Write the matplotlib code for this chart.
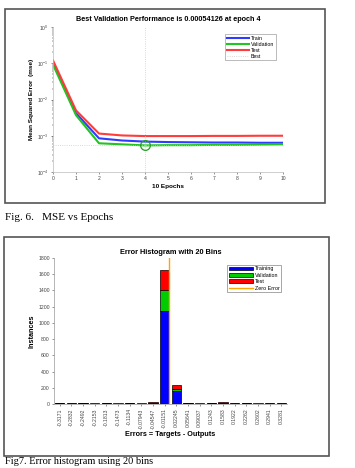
import matplotlib.pyplot as plt
from matplotlib.patches import Rectangle
import numpy as np

plt.rcParams['font.family'] = ['Liberation Sans', 'DejaVu Sans']

# --- performance data (MSE per epoch) ---
epochs = [0, 1, 2, 3, 4, 5, 6, 7, 8, 9, 10]
train_mse = [0.105, 0.0042, 0.00085, 0.00074, 0.00069, 0.00067, 0.00066, 0.00065, 0.00065, 0.00064, 0.00064]
val_mse = [0.092, 0.0037, 0.00062, 0.00058, 0.00054126, 0.00055, 0.00055, 0.00056, 0.00056, 0.00057, 0.00058]
test_mse = [0.12, 0.0050, 0.00115, 0.00102, 0.00098, 0.00098, 0.00098, 0.00099, 0.00099, 0.001, 0.001]
best_epoch = 4
best_val = 0.00054126

# --- error histogram data ---
bin_labels = ['-0.3171', '-0.2832', '-0.2492', '-0.2153', '-0.1813', '-0.1473', '-0.1134',
              '-0.07943', '-0.04547', '-0.01151', '0.02245', '0.05641', '0.09037', '0.1243',
              '0.1583', '0.1922', '0.2262', '0.2602', '0.2941', '0.3281']
bin_centers = [float(s) for s in bin_labels]
hist_train = [10, 6, 9, 5, 7, 5, 8, 5, 14, 1150, 160, 9, 5, 8, 14, 6, 9, 5, 6, 6]
hist_val = [2, 1, 2, 1, 1, 1, 2, 1, 3, 250, 25, 2, 1, 2, 3, 1, 2, 1, 1, 1]
hist_test = [2, 1, 1, 1, 2, 1, 1, 1, 3, 250, 45, 1, 1, 2, 3, 1, 1, 1, 1, 1]

W, H = 355, 468
fig = plt.figure(figsize=(W / 100, H / 100), dpi=100)


def box(x0, y0, x1, y1):
    return [x0 / W, 1 - y1 / H, (x1 - x0) / W, (y1 - y0) / H]


# frames around each figure
for b in [box(5, 9, 325, 203), box(4, 237, 329, 456)]:
    fig.patches.append(Rectangle((b[0], b[1]), b[2], b[3], transform=fig.transFigure,
                                 fill=False, edgecolor='#555555', linewidth=1.2))

# ---------- top: MSE vs epochs ----------
ax1 = fig.add_axes(box(53, 27, 283, 172))
ax1.semilogy(epochs, train_mse, color='#2f3cff', lw=1.5, label='Train')
ax1.semilogy(epochs, val_mse, color='#22c422', lw=1.5, label='Validation')
ax1.semilogy(epochs, test_mse, color='#ff3c3c', lw=1.5, label='Test')
ax1.axvline(best_epoch, color='#cccccc', lw=0.6, ls=':', label='Best')
ax1.axhline(best_val, color='#cccccc', lw=0.6, ls=':')
ax1.plot([best_epoch], [best_val], 'o', ms=7, mfc='none', mec='#22a022', mew=0.9)
ax1.set_xlim(0, 10)
ax1.set_ylim(1e-4, 1)
ax1.set_xticks(range(11))
ax1.tick_params(labelsize=3.6, length=1.5, width=0.4, colors='#444444', pad=1.5)
ax1.tick_params(which='minor', length=0.8, width=0.3)
for s in ['top', 'right']:
    ax1.spines[s].set_visible(False)
for s in ['left', 'bottom']:
    ax1.spines[s].set_color('#bbbbbb')
    ax1.spines[s].set_linewidth(0.5)
ax1.set_title('Best Validation Performance is 0.00054126 at epoch 4',
              fontsize=5.2, fontweight='bold', pad=4)
ax1.set_xlabel('10 Epochs', fontsize=4.6, fontweight='bold', labelpad=2)
ax1.set_ylabel('Mean Squared Error  (mse)', fontsize=4.6, fontweight='bold', labelpad=2)
leg1 = ax1.legend(loc='upper right', bbox_to_anchor=(0.98, 0.97), fontsize=3.8,
                  frameon=True, fancybox=False, handlelength=4.2, borderpad=0.3,
                  labelspacing=0.2, handletextpad=0.4)
leg1.get_frame().set_linewidth(0.5)
leg1.get_frame().set_edgecolor('#888888')

fig.text(5 / W, 1 - 218 / H, 'Fig. 6.   MSE vs Epochs', fontsize=8,
         family='Liberation Serif', va='center', ha='left')

# ---------- bottom: error histogram ----------
ax2 = fig.add_axes(box(54, 258, 287, 404))
pos = np.arange(len(bin_labels))
bw = 0.8
b1 = ax2.bar(pos, hist_train, width=bw, color='#0000ff', edgecolor='black', lw=0.5, label='Training')
b2 = ax2.bar(pos, hist_val, width=bw, bottom=hist_train, color='#00cc00', edgecolor='black',
             lw=0.5, label='Validation')
bottom2 = [a + b for a, b in zip(hist_train, hist_val)]
b3 = ax2.bar(pos, hist_test, width=bw, bottom=bottom2, color='#ff0000', edgecolor='black',
             lw=0.5, label='Test')
step = bin_centers[1] - bin_centers[0]
zero_pos = (0 - bin_centers[0]) / step
zl = ax2.axvline(zero_pos, color='#ffa500', lw=1.0, label='Zero Error')
ax2.set_xlim(-0.5, len(bin_labels) - 0.5)
ax2.set_ylim(0, 1800)
ax2.set_yticks(range(0, 1801, 200))
ax2.set_xticks(pos)
ax2.set_xticklabels(bin_labels, rotation=90)
ax2.tick_params(labelsize=3.7, length=1.5, width=0.4, colors='#444444', pad=1.5)
for s in ['top', 'right']:
    ax2.spines[s].set_visible(False)
for s in ['left', 'bottom']:
    ax2.spines[s].set_color('#999999')
    ax2.spines[s].set_linewidth(0.5)
ax2.set_title('Error Histogram with 20 Bins', fontsize=5.3, fontweight='bold', pad=3)
ax2.set_xlabel('Errors = Targets - Outputs', fontsize=5.2, fontweight='bold', labelpad=2)
ax2.set_ylabel('Instances', fontsize=5.2, fontweight='bold', labelpad=2)
leg2 = ax2.legend(handles=[b1, b2, b3, zl], loc='upper right', bbox_to_anchor=(0.985, 0.97),
                  fontsize=3.9, frameon=True, fancybox=False, handlelength=4.5,
                  borderpad=0.25, labelspacing=0.25, handletextpad=0.3)
leg2.get_frame().set_linewidth(0.5)
leg2.get_frame().set_edgecolor('#666666')

fig.text(5 / W, 1 - 462 / H, 'Fig7. Error histogram using 20 bins', fontsize=7.5,
         family='Liberation Serif', va='center', ha='left')

fig.savefig('out.png', dpi=100, facecolor='white')
